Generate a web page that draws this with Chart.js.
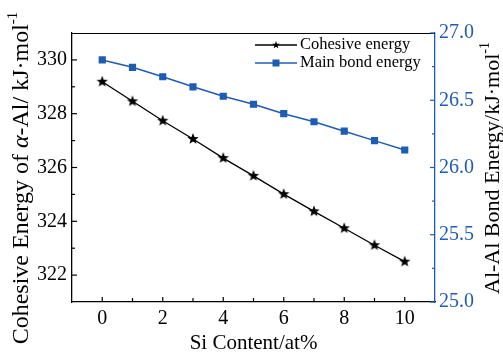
<!DOCTYPE html>
<html><head><meta charset="utf-8">
<script src="https://cdn.jsdelivr.net/npm/chart.js@4"></script>
<style>html,body{margin:0;padding:0;background:#fff}#wrap{width:503px;height:356px}</style>
</head><body><div id="wrap"><canvas id="c" width="503" height="356"></canvas></div>
<script>
const siContent = [0,1,2,3,4,5,6,7,8,9,10];
const cohesiveEnergy = [329.19,328.46,327.74,327.06,326.35,325.69,325.01,324.37,323.74,323.11,322.5];
const mainBondEnergy = [26.80,26.745,26.675,26.60,26.53,26.47,26.40,26.34,26.27,26.20,26.13];
const xTicks = [0,2,4,6,8,10];
const leftTicks = [322,324,326,328,330];
const rightTicks = [25.0,25.5,26.0,26.5,27.0];
const seriesNames = ['Cohesive energy','Main bond energy'];
const xTitle = 'Si Content/at%';
// axis titles as text runs (italic / superscript parts)
const leftTitle = [{t:'Cohesive Energy of '},{t:'α',i:true},{t:'-Al/ kJ·mol'},{t:'-1',s:true}];
const rightTitle = [{t:'Al-Al Bond Energy/kJ·mol'},{t:'-1',s:true}];

const BLUE = '#1f5cb4';
const FONT = "'Liberation Serif','Times New Roman',serif";

function makeStar(r, color){
  const c = document.createElement('canvas');
  c.width = c.height = Math.ceil(r*2+2);
  const g = c.getContext('2d');
  const cx = c.width/2, cy = c.height/2, ri = r*0.42;
  g.beginPath();
  for(let i=0;i<10;i++){
    const rad = i%2===0 ? r : ri;
    const a = -Math.PI/2 + i*Math.PI/5;
    const px = cx + rad*Math.cos(a), py = cy + rad*Math.sin(a);
    i===0 ? g.moveTo(px,py) : g.lineTo(px,py);
  }
  g.closePath(); g.fillStyle = color; g.fill();
  return c;
}
const starImg = makeStar(6,'#000');
const starSmall = makeStar(4,'#000');

const toXY = (arr) => arr.map((v,i)=>({x:siContent[i], y:v}));

function drawRuns(ctx, runs, size){
  const fonts = runs.map(r => (r.i?'italic ':'') + (r.s? Math.round(size*0.62) : size) + 'px ' + FONT);
  let total = 0;
  const widths = runs.map((r,k)=>{ ctx.font = fonts[k]; const w = ctx.measureText(r.t).width; total += w; return w; });
  let x = -total/2;
  runs.forEach((r,k)=>{
    ctx.font = fonts[k];
    ctx.fillText(r.t, x, r.s ? -size*0.45 : 0);
    x += widths[k];
  });
}

const axisTitles = {
  id:'axisTitles',
  afterDraw(chart){
    const ctx = chart.ctx;
    ctx.save();
    ctx.fillStyle = '#000';
    ctx.textBaseline = 'alphabetic';
    ctx.textAlign = 'left';
    ctx.save(); ctx.translate(28, 178); ctx.rotate(-Math.PI/2);
    drawRuns(ctx, leftTitle, 24); ctx.restore();
    ctx.save(); ctx.translate(499, 168); ctx.rotate(-Math.PI/2);
    drawRuns(ctx, rightTitle, 22); ctx.restore();
    ctx.restore();
  }
};

const inwardTicks = {
  id:'inwardTicks',
  afterDraw(chart){
    const ctx = chart.ctx, a = chart.chartArea;
    const sx = chart.scales.x, sy = chart.scales.y, sy2 = chart.scales.y2;
    ctx.save();
    ctx.lineWidth = 1.2;
    ctx.strokeStyle = '#000';
    ctx.beginPath(); ctx.moveTo(a.left, a.top+0.5); ctx.lineTo(a.right, a.top+0.5); ctx.stroke();
    for(let v=0; v<=10; v++){
      const p = sx.getPixelForValue(v);
      const L = v%2===0 ? 5 : 4;
      ctx.beginPath(); ctx.moveTo(p, a.bottom); ctx.lineTo(p, a.bottom-L); ctx.stroke();
    }
    for(let v=322; v<=330; v++){
      const p = sy.getPixelForValue(v);
      const L = v%2===0 ? 5 : 3;
      ctx.beginPath(); ctx.moveTo(a.left, p); ctx.lineTo(a.left+L, p); ctx.stroke();
    }
    ctx.strokeStyle = BLUE;
    for(let k=0;k<=8;k++){
      const v = 25 + k*0.25;
      const p = sy2.getPixelForValue(v);
      const L = k%2===0 ? 5 : 3;
      ctx.beginPath(); ctx.moveTo(a.right, p); ctx.lineTo(a.right-L, p); ctx.stroke();
    }
    ctx.restore();
  }
};

const innerLegend = {
  id:'innerLegend',
  afterDraw(chart){
    const ctx = chart.ctx;
    ctx.save();
    ctx.font = "16.5px " + FONT;
    ctx.textBaseline = 'middle';
    const x0 = 255, x1 = 297, tx = 300;
    const rows = [45, 63];
    chart.data.datasets.forEach((ds,i)=>{
      const y = rows[i];
      ctx.strokeStyle = ds.borderColor; ctx.lineWidth = 1.5;
      ctx.beginPath(); ctx.moveTo(x0,y); ctx.lineTo(x1,y); ctx.stroke();
      const mx = (x0+x1)/2;
      if(i===0){ ctx.drawImage(starSmall, mx-starSmall.width/2, y-starSmall.height/2); }
      else { ctx.fillStyle = BLUE; ctx.fillRect(mx-3.5, y-3.5, 7, 7); }
      ctx.fillStyle = '#000';
      ctx.fillText(ds.label, tx, y);
    });
    ctx.restore();
  }
};

new Chart(document.getElementById('c'), {
  type:'line',
  data:{
    datasets:[
      {label:seriesNames[0], data:toXY(cohesiveEnergy), yAxisID:'y', borderColor:'#000', backgroundColor:'#000',
       borderWidth:1.3, pointStyle:starImg, pointRadius:6, tension:0},
      {label:seriesNames[1], data:toXY(mainBondEnergy), yAxisID:'y2', borderColor:BLUE, backgroundColor:BLUE,
       borderWidth:1.5, pointStyle:'rect', pointRadius:4, tension:0}
    ]
  },
  options:{
    responsive:false, animation:false, devicePixelRatio:1,
    layout:{padding:{top:33, right:0, left:0, bottom:0}},
    plugins:{legend:{display:false}, tooltip:{enabled:false}},
    scales:{
      x:{type:'linear', min:-1, max:11,
        afterBuildTicks:(s)=>{s.ticks = xTicks.map(v=>({value:v}));},
        afterFit:(s)=>{s.height = 54;},
        grid:{display:false, drawTicks:false},
        border:{display:true, color:'#000', width:1.3},
        ticks:{color:'#000', font:{family:FONT, size:20}, padding:5},
        title:{display:true, text:xTitle, color:'#000', font:{family:FONT, size:21}, padding:{top:0,bottom:0}}
      },
      y:{type:'linear', position:'left', min:321, max:331,
        afterBuildTicks:(s)=>{s.ticks = leftTicks.map(v=>({value:v}));},
        afterFit:(s)=>{s.width = 72;},
        grid:{display:false, drawTicks:false},
        border:{display:true, color:'#000', width:1.3},
        ticks:{color:'#000', font:{family:FONT, size:20}, padding:5}
      },
      y2:{type:'linear', position:'right', min:25, max:27,
        afterBuildTicks:(s)=>{s.ticks = rightTicks.map(v=>({value:v}));},
        afterFit:(s)=>{s.width = 68;},
        grid:{display:false, drawTicks:false},
        border:{display:true, color:BLUE, width:1.3},
        ticks:{color:BLUE, font:{family:FONT, size:20}, padding:4, callback:(v)=>Number(v).toFixed(1)}
      }
    }
  },
  plugins:[inwardTicks, innerLegend, axisTitles]
});
</script>
</body></html>
